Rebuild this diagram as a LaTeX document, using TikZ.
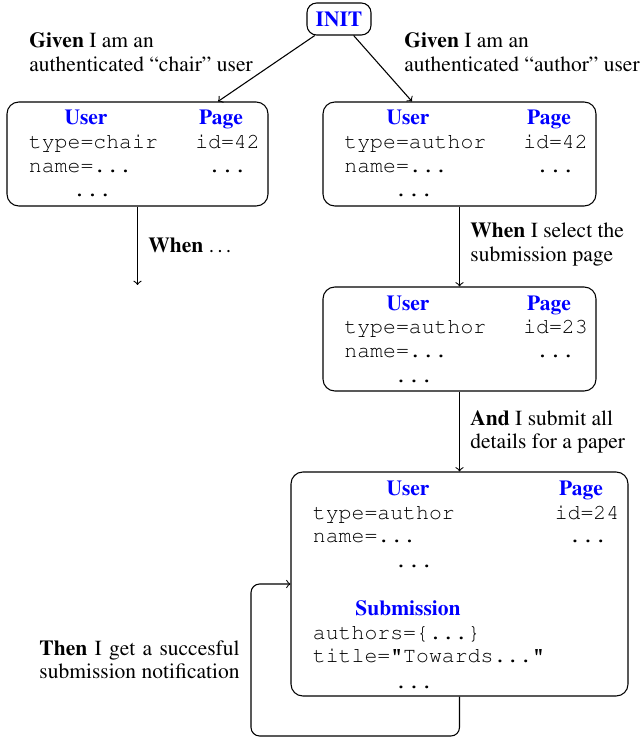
\documentclass[tikz,border=0pt]{standalone}
\usepackage[T1]{fontenc}
\usepackage{times}
\usetikzlibrary{calc}

% one drawing unit
\newdimen\px \px=0.4651pt
% two-line labels, first baseline is the node's base
\newcommand\twol[2]{\vtop{\halign{##\hfil\cr#1\cr#2\cr}}}
% two-line label, first line stretched to the width of the second
\newcommand\twoj[2]{\setbox0\hbox{#2}%
  \vtop{\hsize=\wd0 \parindent=0pt \hbadness=10000 #1\linebreak #2\par}}

\begin{document}
\begin{tikzpicture}[x=0.4651pt, y=-0.4651pt,
  txtfont/.style={font=\fontsize{10}{11}\selectfont},
  statebox/.style={draw, line width=0.5pt, rounded corners=5.5pt, inner sep=0pt},
  hd/.style={anchor=base, inner sep=0pt, text=blue,
             font=\fontsize{10}{11}\selectfont\bfseries},
  ttl/.style={anchor=base west, inner sep=0pt,
              font=\fontsize{10}{11}\selectfont\ttfamily},
  ttc/.style={anchor=base, inner sep=0pt,
              font=\fontsize{10}{11}\selectfont\ttfamily},
  lbl/.style={anchor=base west, inner sep=0pt, txtfont},
  lblr/.style={anchor=base east, inner sep=0pt, txtfont},
  conn/.style={->, line width=0.5pt}]

\useasboundingbox (0,0) rectangle (643,738);

% initial state
\node[statebox, rounded corners=4.5pt, minimum width=64*\px, minimum height=32*\px,
      text=blue, font=\fontsize{10}{11}\selectfont\bfseries] (init) at (339,19) {INIT};

% state boxes
\node[statebox, minimum width=261*\px, minimum height=104*\px] (b1) at (137.5,154) {};
\node[statebox, minimum width=273*\px, minimum height=104*\px] (b2) at (459.5,154) {};
\node[statebox, minimum width=273*\px, minimum height=104*\px] (b3) at (459.5,339) {};
\node[statebox, minimum width=337*\px, minimum height=224*\px] (b4) at (459.5,584) {};

% contents of the chair state
\node[hd]  (b1u)  at (86,125)    {User};
\node[hd]  (b1p)  at (221,125)   {Page};
\node[ttl] (b1t)  at (28.5,149)  {type=chair};
\node[ttc] (b1i)  at (227.5,149) {id=42};
\node[ttl] (b1n)  at (28.5,173)  {name=...};
\node[ttc] (b1d)  at (227.5,173) {...};
\node[ttc] (b1e)  at (92.5,197)  {...};

% contents of the author state
\node[hd]  (b2u)  at (408,125)   {User};
\node[hd]  (b2p)  at (549,125)   {Page};
\node[ttl] (b2t)  at (344,149)   {type=author};
\node[ttc] (b2i)  at (555.5,149) {id=42};
\node[ttl] (b2n)  at (344,173)   {name=...};
\node[ttc] (b2d)  at (555.5,173) {...};
\node[ttc] (b2e)  at (414,197)   {...};

% contents of the submission page state
\node[hd]  (b3u)  at (408,311)   {User};
\node[hd]  (b3p)  at (549,311)   {Page};
\node[ttl] (b3t)  at (344,334)   {type=author};
\node[ttc] (b3i)  at (555.5,334) {id=23};
\node[ttl] (b3n)  at (344,358)   {name=...};
\node[ttc] (b3d)  at (555.5,358) {...};
\node[ttc] (b3e)  at (414,382)   {...};

% contents of the submitted state
\node[hd]  (b4u)  at (408,495)   {User};
\node[hd]  (b4p)  at (581,495)   {Page};
\node[ttl] (b4t)  at (312.5,519) {type=author};
\node[ttc] (b4i)  at (587,519)   {id=24};
\node[ttl] (b4n)  at (312.5,542) {name=...};
\node[ttc] (b4d)  at (588,542)   {...};
\node[ttc] (b4e)  at (414,567)   {...};
\node[hd]  (b4s)  at (408,615)   {Submission};
\node[ttl] (b4a)  at (312.5,639) {authors=\{...\}};
\node[ttl] (b4ti) at (312.5,662) {title="Towards..."};
\node[ttc] (b4f)  at (414,688)   {...};

% step labels
\node[lbl]  (g1) at (29,48)   {\twol{\textbf{Given} I am an}{authenticated ``chair'' user}};
\node[lbl]  (g2) at (404,48)  {\twol{\textbf{Given} I am an}{authenticated ``author'' user}};
\node[lbl]  (w1) at (148,253) {\textbf{When} \ldots};
\node[lbl]  (w2) at (470,238) {\twol{\textbf{When} I select the}{submission page}};
\node[lbl]  (a1) at (470,425) {\twol{\textbf{And} I submit all}{details for a paper}};
\node[lblr] (t1) at (240,655) {\twoj{\textbf{Then} I get a succesful}{submission notification}};

% transitions
\coordinate (e1) at (137.5,285);
\coordinate (lp1) at (459.5,736);
\coordinate (lp2) at (251,736);
\coordinate (lp3) at (251,584);

\draw[conn] (init) -- ($(b1.north)+(80.5,0)$);
\draw[conn] (init) -- ($(b2.north)+(-47.5,0)$);
\draw[conn] (b1.south) -- (e1);
\draw[conn] (b2.south) -- (b3.north);
\draw[conn] (b3.south) -- (b4.north);
\draw[conn, rounded corners=4pt] (b4.south) -- (lp1) -- (lp2) -- (lp3) -- (b4.west);
\end{tikzpicture}
\end{document}
